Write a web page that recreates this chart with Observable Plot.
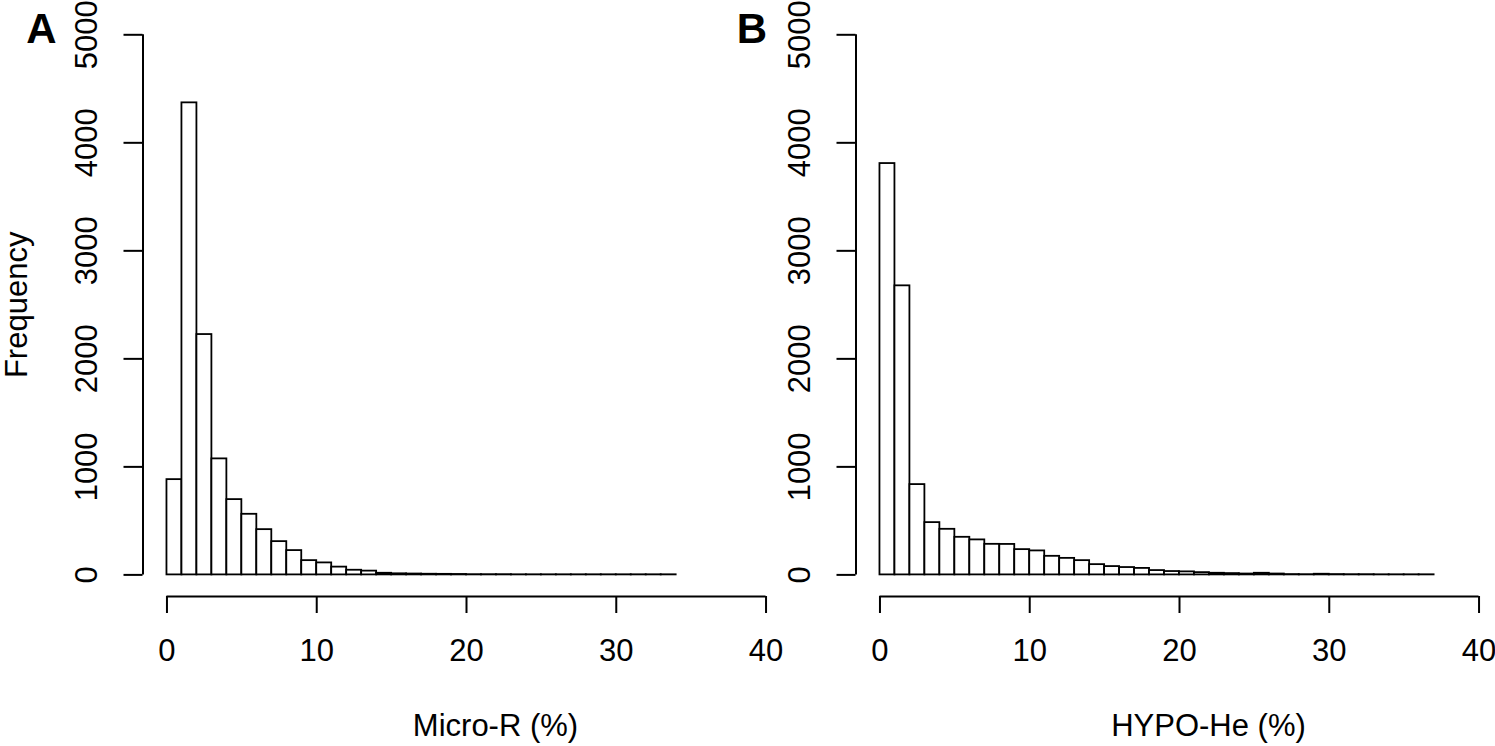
<!DOCTYPE html>
<html><head><meta charset="utf-8">
<script src="https://cdn.jsdelivr.net/npm/d3@7"></script>
<script src="https://cdn.jsdelivr.net/npm/@observablehq/plot@0.6"></script>
<style>
html,body{margin:0;padding:0;background:#fff;overflow:hidden}
#wrap{position:relative;width:1495px;height:746px;overflow:hidden}
#wrap svg{position:absolute;top:0}
</style></head><body><div id="wrap"></div>
<script>
// Histogram counts per 1%-wide bin, starting at 0
const microR = [882, 4370, 2225, 1074, 697, 561, 419, 308, 225, 132, 111, 72, 43, 35, 15, 10, 8, 6, 5, 4, 2, 2, 2, 1, 1, 1, 1, 1, 1, 1, 1, 1, 1, 1];
const hypoHe = [3808, 2676, 836, 484, 422, 348, 324, 283, 282, 234, 222, 172, 153, 132, 95, 77, 68, 60, 40, 31, 28, 21, 15, 12, 8, 15, 8, 3, 2, 6, 3, 2, 2, 1, 1, 1, 1];
const binWidth = 1;
const xTicks = [0, 10, 20, 30, 40];
const yTicks = [0, 1000, 2000, 3000, 4000, 5000];
const panelLetters = ["A", "B"];
const xTitles = ["Micro-R (%)", "HYPO-He (%)"];
const yTitle = "Frequency";

const FONT = "'Liberation Sans', Arial, Helvetica, sans-serif";
const FS = 31;

function panel(counts, letter, xTitle, showYTitle, letterDx) {
  const bins = counts.map((n, i) => ({x1: i * binWidth, x2: (i + 1) * binWidth, n}));
  const xlo = xTicks[0], xhi = xTicks[xTicks.length - 1];
  const xpad = 0.04 * (xhi - xlo);
  const ylo = yTicks[0], yhi = yTicks[yTicks.length - 1];
  const ypad = 0.04 * (yhi - ylo);
  const marks = [
    Plot.rectY(bins, {x1: "x1", x2: "x2", y: "n", fill: "white", stroke: "black", strokeWidth: 1.8, inset: 0}),
    Plot.ruleY([ylo - ypad], {x1: xlo, x2: xhi, stroke: "black", strokeWidth: 2}),
    Plot.ruleX([xlo - xpad], {y1: ylo, y2: yhi, stroke: "black", strokeWidth: 2}),
    Plot.axisX(xTicks, {anchor: "bottom", tickSize: 17, tickPadding: 25, strokeWidth: 2, fontSize: FS, label: null, tickFormat: d => String(d)}),
    Plot.axisY(yTicks, {anchor: "left", tickSize: 19, strokeWidth: 2, label: null, tickFormat: () => ""}),
    Plot.text(yTicks, {y: d => d, frameAnchor: "left", textAnchor: "middle", lineAnchor: "middle", rotate: -90, dx: -56, text: d => String(d), fontSize: FS, fill: "black"}),
    Plot.text([xTitle], {frameAnchor: "bottom", textAnchor: "middle", lineAnchor: "middle", dx: 29, dy: 130, text: d => d, fontSize: FS, fill: "black"}),
    Plot.text([letter], {frameAnchor: "top-left", textAnchor: "middle", lineAnchor: "middle", dx: letterDx, dy: 16, text: d => d, fontSize: 42, fontWeight: "bold", fill: "black"})
  ];
  if (showYTitle) {
    marks.push(Plot.text([yTitle], {frameAnchor: "left", textAnchor: "middle", lineAnchor: "middle", rotate: -90, dx: -126, text: d => d, fontSize: FS, fill: "black"}));
  }
  return Plot.plot({
    width: 790, height: 746,
    marginLeft: 142.5, marginRight: 0.5, marginTop: 12.7, marginBottom: 150,
    x: {domain: [xlo - xpad, xhi + xpad]},
    y: {domain: [ylo - ypad, yhi + ypad]},
    style: {background: "transparent", overflow: "visible", fontFamily: FONT, fontSize: FS + "px", color: "black", maxWidth: "none"},
    marks
  });
}

const wrap = document.getElementById("wrap");
const a = panel(microR, panelLetters[0], xTitles[0], true, -101.5);
a.style.left = "0px";
const b = panel(hypoHe, panelLetters[1], xTitles[1], false, -104);
b.style.left = "712.8px";
wrap.appendChild(a);
wrap.appendChild(b);
</script></body></html>
